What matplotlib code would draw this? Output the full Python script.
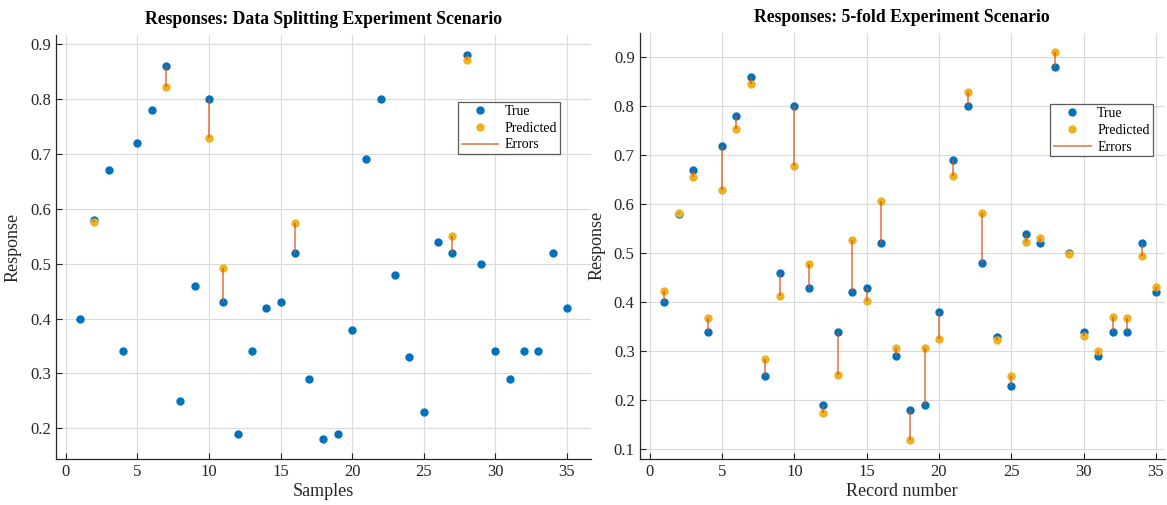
import numpy as np
import matplotlib
matplotlib.use('Agg')
import matplotlib.pyplot as plt

plt.rcParams['font.family'] = ['Liberation Serif', 'DejaVu Serif']

# record numbers and true responses (same for both scenarios)
samples = list(range(1, 36))
true_vals = [0.40, 0.58, 0.67, 0.34, 0.72, 0.78, 0.86, 0.25, 0.46, 0.80,
             0.43, 0.19, 0.34, 0.42, 0.43, 0.52, 0.29, 0.18, 0.19, 0.38,
             0.69, 0.80, 0.48, 0.33, 0.23, 0.54, 0.52, 0.88, 0.50, 0.34,
             0.29, 0.34, 0.34, 0.52, 0.42]

# data splitting: predictions exist only for the test samples
split_idx = [2, 7, 10, 11, 16, 27, 28]
split_pred = [0.576, 0.822, 0.729, 0.492, 0.575, 0.551, 0.871]

# 5-fold: every record has a prediction
kfold_pred = [0.422, 0.583, 0.656, 0.367, 0.630, 0.754, 0.846, 0.284, 0.413, 0.679,
              0.479, 0.175, 0.252, 0.527, 0.403, 0.607, 0.306, 0.119, 0.306, 0.325,
              0.658, 0.830, 0.582, 0.324, 0.249, 0.523, 0.532, 0.910, 0.498, 0.332,
              0.301, 0.370, 0.368, 0.494, 0.431]

c_true = '#0072BD'
c_pred = '#EDB120'
c_err = '#D95319'
dark = '#262626'

fig = plt.figure(figsize=(11.67, 5.05), dpi=100)
ax1 = fig.add_axes([0.0477, 0.091, 0.459, 0.840])
ax2 = fig.add_axes([0.548, 0.091, 0.450, 0.844])


def draw(ax, x_true, y_true, x_pred, y_pred, title, xlabel, ylim, xlim, leg_anchor):
    ax.plot(x_true, y_true, 'o', color=c_true, ms=5, label='True')
    ax.plot(x_pred, y_pred, 'o', color=c_pred, ms=5, label='Predicted')
    yt = [y_true[x_true.index(i)] for i in x_pred]
    ax.vlines(x_pred, yt, y_pred, color=c_err, lw=1.2, alpha=0.75, label='Errors')
    ax.set_xlim(*xlim)
    ax.set_ylim(*ylim)
    ax.set_xticks(range(0, 36, 5))
    ax.set_title(title, fontsize=12.7, fontweight='bold', color='black', pad=8)
    ax.set_xlabel(xlabel, fontsize=13, color=dark, labelpad=2)
    ax.set_ylabel('Response', fontsize=13, color=dark, labelpad=6)
    ax.grid(True, color='#dadada', lw=0.8)
    ax.set_axisbelow(True)
    for s in ['top', 'right']:
        ax.spines[s].set_visible(False)
    for s in ['left', 'bottom']:
        ax.spines[s].set_color(dark)
        ax.spines[s].set_linewidth(0.9)
    ax.tick_params(direction='in', length=4, labelsize=12, colors=dark)
    leg = ax.legend(loc='upper right', bbox_to_anchor=leg_anchor, fontsize=10,
                    frameon=True, fancybox=False, edgecolor='#333333',
                    borderpad=0.2, labelspacing=0.28, handlelength=2.8,
                    handletextpad=0.4, borderaxespad=0)
    leg.get_frame().set_linewidth(0.9)


draw(ax1, samples, true_vals, split_idx, split_pred,
     'Responses: Data Splitting Experiment Scenario', 'Samples',
     (0.144, 0.917), (-0.7, 36.7), (0.942, 0.842))
draw(ax2, samples, true_vals, samples, kfold_pred,
     'Responses: 5-fold Experiment Scenario', 'Record number',
     (0.08, 0.95), (-0.7, 35.6), (0.977, 0.833))

fig.savefig('out.png', dpi=100)
